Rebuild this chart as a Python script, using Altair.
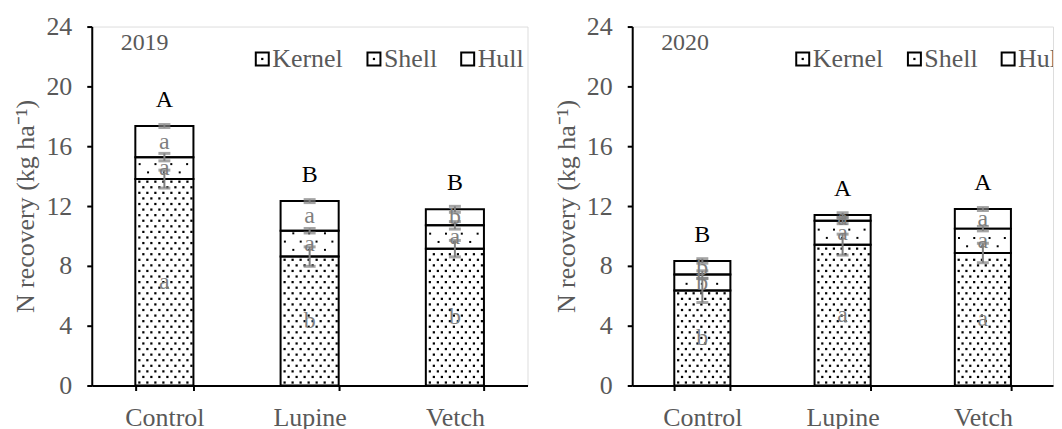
import altair as alt
import pandas as pd

# ---------------- data ----------------
TREATMENTS = ["Control", "Lupine", "Vetch"]
PARTS = ["Kernel", "Shell", "Hull"]

# 2019
kernel_2019 = [13.8, 8.62, 9.15]
shell_2019 = [1.47, 1.73, 1.56]
hull_2019 = [2.08, 1.98, 1.07]
kernel_err_2019 = [0.6, 0.65, 0.55]
shell_err_2019 = [0.25, 0.15, 0.25]
hull_err_2019 = [0.1, 0.1, 0.2]
kernel_let_2019 = ["a", "b", "b"]
shell_let_2019 = ["a", "a", "a"]
hull_let_2019 = ["a", "a", "b"]
total_let_2019 = ["A", "B", "B"]

# 2020
kernel_2020 = [6.35, 9.42, 8.86]
shell_2020 = [1.07, 1.6, 1.63]
hull_2020 = [0.91, 0.38, 1.31]
kernel_err_2020 = [0.8, 0.7, 0.65]
shell_err_2020 = [0.25, 0.2, 0.15]
hull_err_2020 = [0.15, 0.15, 0.1]
kernel_let_2020 = ["b", "a", "a"]
shell_let_2020 = ["b", "a", "a"]
hull_let_2020 = ["b", "a", "a"]
total_let_2020 = ["B", "A", "A"]

Y_TICKS = [0, 4, 8, 12, 16, 20, 24]
Y_TITLE = "N recovery (kg ha\u207b\u00b9)"

# ---------------- style ----------------
FONT = "Liberation Serif"
TEXT_GRAY = "#595959"
ERR_GRAY = "#7f7f7f"
H = 360
PAD_OUTER, PAD_INNER = 0.3, 0.6

# dotted fill textures (decoration; fractions of bar width and y-units)
KERNEL_TEX = dict(step=0.373, first=0.2, size=5,
                  cols=([(4 + 8 * j) / 58 for j in range(7)], [(8 + 8 * j) / 58 for j in range(7)]))
SHELL_TEX = dict(step=0.553, first=0.45, size=4,
                 cols=([(12.7 + 15.8 * j) / 58 for j in range(3)], [(4.3 + 15.8 * j) / 58 for j in range(4)]))


def seg_table(kernel, shell, hull, kerr, serr, herr, klet, slet, hlet):
    rows = []
    for i, t in enumerate(TREATMENTS):
        vals = [kernel[i], shell[i], hull[i]]
        errs = [kerr[i], serr[i], herr[i]]
        lets = [klet[i], slet[i], hlet[i]]
        base = 0.0
        for p, v, e, l in zip(PARTS, vals, errs, lets):
            rows.append(dict(idx=i, treatment=t, part=p, lo=base, hi=base + v, mid=base + v / 2,
                             elo=base + v - e, ehi=base + v + e, letter=l))
            base += v
    return pd.DataFrame(rows)


def tot_table(kernel, shell, hull, lets):
    return pd.DataFrame(dict(treatment=TREATMENTS,
                             total=[k + s + h for k, s, h in zip(kernel, shell, hull)],
                             letter=lets))


def texture(seg, part, tex):
    pts = []
    bar = 1 - PAD_INNER
    for _, r in seg[seg.part == part].iterrows():
        y = r.lo + tex["first"]
        k = 0
        while y < r.hi - 0.12:
            for f in tex["cols"][k % 2]:
                pts.append(dict(tx=r.idx + PAD_OUTER + bar * f, ty=y))
            y += tex["step"]
            k += 1
    return pd.DataFrame(pts)


def xenc():
    axis = alt.Axis(title=None, labelAngle=0, tickBand="extent", labelFont=FONT,
                    labelFontSize=26, labelColor=TEXT_GRAY, labelPadding=14,
                    tickSize=5, tickWidth=2, tickColor="black",
                    domainColor="black", domainWidth=2, grid=False)
    return alt.X("treatment:N", sort=TREATMENTS,
                 scale=alt.Scale(domain=TREATMENTS, paddingInner=PAD_INNER, paddingOuter=PAD_OUTER),
                 axis=axis)


def yenc(field):
    return alt.Y(field, scale=alt.Scale(domain=[0, 24], nice=False),
                 axis=alt.Axis(values=Y_TICKS, title=Y_TITLE, titleFont=FONT, titleFontSize=26,
                               titleFontWeight="normal", titleColor=TEXT_GRAY, titlePadding=7,
                               labelFont=FONT, labelFontSize=26, labelColor=TEXT_GRAY,
                               labelPadding=15, tickSize=5, tickWidth=2, tickColor="black",
                               domainColor="black", domainWidth=2, grid=False))


def panel(year_label, seg, tot, width):
    # texture dots, on their own continuous x scale matching the band layout
    dot_layers = []
    for part, tex in (("Kernel", KERNEL_TEX), ("Shell", SHELL_TEX)):
        dot_layers.append(
            alt.Chart(texture(seg, part, tex)).mark_square(
                size=tex["size"], color="black", opacity=1, strokeWidth=0
            ).encode(
                x=alt.X("tx:Q", scale=alt.Scale(domain=[0, 3], nice=False, zero=False), axis=None),
                y=yenc("ty:Q"),
            )
        )
    dots = alt.layer(*dot_layers)

    base = alt.Chart(seg)
    outline = base.mark_bar(fillOpacity=0, stroke="black", strokeWidth=2).encode(
        x=xenc(), y=yenc("lo:Q"), y2="hi:Q")
    err = base.mark_rule(color=ERR_GRAY, strokeWidth=2).encode(x=xenc(), y=yenc("elo:Q"), y2="ehi:Q")
    cap_lo = base.mark_tick(color=ERR_GRAY, thickness=3, size=12).encode(x=xenc(), y=yenc("elo:Q"))
    cap_hi = base.mark_tick(color=ERR_GRAY, thickness=3, size=12).encode(x=xenc(), y=yenc("ehi:Q"))
    letters = base.mark_text(font=FONT, fontSize=24, color=ERR_GRAY, baseline="middle").encode(
        x=xenc(), y=yenc("mid:Q"), text="letter:N")
    totals = alt.Chart(tot).mark_text(font=FONT, fontSize=24, color="black", baseline="middle", dy=-26).encode(
        x=xenc(), y=yenc("total:Q"), text="letter:N")
    main = [outline, err, cap_lo, cap_hi, letters, totals]

    one = alt.Chart(pd.DataFrame({"k": [0]}))
    main.append(one.mark_text(text=year_label, font=FONT, fontSize=24, color=TEXT_GRAY,
                              align="left", baseline="middle").encode(x=alt.value(29), y=alt.value(17)))
    leg_x = [171, 283, 377]
    for name, cx in zip(PARTS, leg_x):
        main.append(one.mark_square(size=169, fill="white", stroke="black", strokeWidth=2, opacity=1)
                    .encode(x=alt.value(cx), y=alt.value(32.5)))
        if name != "Hull":
            main.append(one.mark_square(size=5, color="black", opacity=1, strokeWidth=0)
                        .encode(x=alt.value(cx), y=alt.value(32.5)))
        main.append(one.mark_text(text=name, font=FONT, fontSize=26, color=TEXT_GRAY,
                                  align="left", baseline="middle", clip=True)
                    .encode(x=alt.value(cx + 10), y=alt.value(32.5)))
    main_layer = alt.layer(*main)
    return alt.layer(dots, main_layer).resolve_scale(x="independent").properties(width=width, height=H)


seg19 = seg_table(kernel_2019, shell_2019, hull_2019, kernel_err_2019, shell_err_2019, hull_err_2019,
                  kernel_let_2019, shell_let_2019, hull_let_2019)
seg20 = seg_table(kernel_2020, shell_2020, hull_2020, kernel_err_2020, shell_err_2020, hull_err_2020,
                  kernel_let_2020, shell_let_2020, hull_let_2020)
tot19 = tot_table(kernel_2019, shell_2019, hull_2019, total_let_2019)
tot20 = tot_table(kernel_2020, shell_2020, hull_2020, total_let_2020)

chart = alt.hconcat(panel("2019", seg19, tot19, 437), panel("2020", seg20, tot20, 422), spacing=24).properties(
    padding={"left": 4, "top": 4, "right": 0, "bottom": 0}
).configure_view(stroke=None).configure(font=FONT, background="white")

chart.save("out.html", embed_options={"renderer": "svg", "actions": False})
